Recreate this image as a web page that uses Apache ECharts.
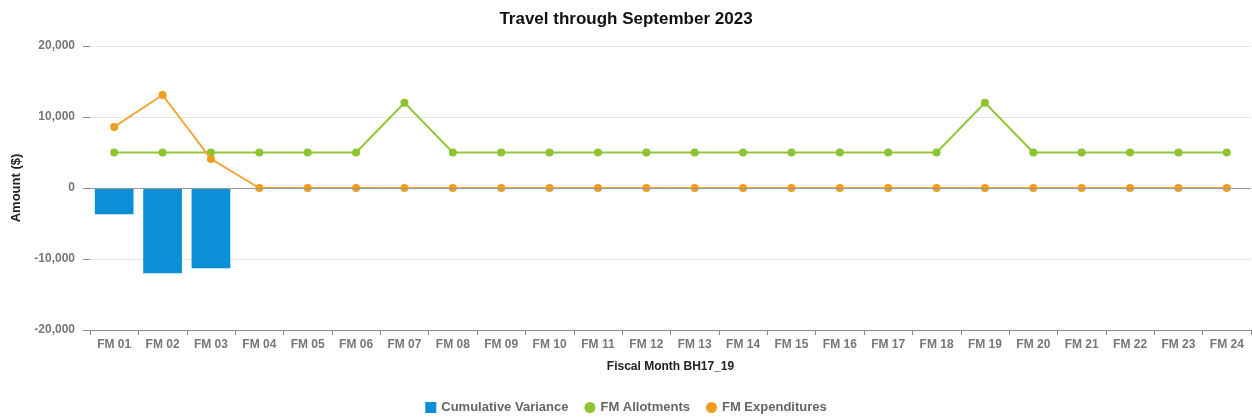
<!DOCTYPE html>
<html>
<head>
<meta charset="utf-8">
<script src="https://cdn.jsdelivr.net/npm/echarts@6/dist/echarts.min.js"></script>
<style>
  html, body { margin: 0; padding: 0; background: #fff; }
  #chart { width: 1252px; height: 419px; }
</style>
</head>
<body>
<div id="chart"></div>
<script>
// Fiscal months on the category axis
const months = ['FM 01','FM 02','FM 03','FM 04','FM 05','FM 06','FM 07','FM 08','FM 09','FM 10','FM 11','FM 12',
                'FM 13','FM 14','FM 15','FM 16','FM 17','FM 18','FM 19','FM 20','FM 21','FM 22','FM 23','FM 24'];

// Cumulative variance (bars); only the first three months carry a value
const cumulativeVariance = [-3700, -12000, -11300, null, null, null, null, null, null, null, null, null,
                            null, null, null, null, null, null, null, null, null, null, null, null];

// Monthly allotments
const allotments = [5000, 5000, 5000, 5000, 5000, 5000, 12000, 5000, 5000, 5000, 5000, 5000,
                    5000, 5000, 5000, 5000, 5000, 5000, 12000, 5000, 5000, 5000, 5000, 5000];

// Monthly expenditures
const expenditures = [8600, 13100, 4100, 0, 0, 0, 0, 0, 0, 0, 0, 0,
                      0, 0, 0, 0, 0, 0, 0, 0, 0, 0, 0, 0];

const FONT = '"Liberation Sans", Arial, sans-serif';
const chart = echarts.init(document.getElementById('chart'));

chart.setOption({
  animation: false,
  title: {
    text: 'Travel through September 2023',
    left: 'center',
    top: 6,
    textStyle: { fontFamily: FONT, fontSize: 17, fontWeight: 'bold', color: '#111' }
  },
  legend: {
    bottom: 0,
    left: 'center',
    itemWidth: 11,
    itemHeight: 11,
    itemGap: 16,
    textStyle: { fontFamily: FONT, fontSize: 13, fontWeight: 'bold', color: '#666' },
    data: [
      { name: 'Cumulative Variance', icon: 'rect' },
      { name: 'FM Allotments', icon: 'circle' },
      { name: 'FM Expenditures', icon: 'circle' }
    ]
  },
  grid: { left: 90, right: 1, top: 46, bottom: 89 },
  xAxis: {
    type: 'category',
    data: months,
    boundaryGap: true,
    name: 'Fiscal Month BH17_19',
    nameLocation: 'middle',
    nameGap: 31,
    nameTextStyle: { fontFamily: FONT, fontSize: 12, fontWeight: 'bold', color: '#222' },
    axisLine: { onZero: false, lineStyle: { color: '#8a8a8a', width: 1 } },
    axisTick: { show: true, alignWithLabel: false, length: 5, lineStyle: { color: '#8a8a8a' } },
    axisLabel: { fontFamily: FONT, fontSize: 12, fontWeight: 'bold', color: '#777', margin: 9, interval: 0 },
    splitLine: { show: false }
  },
  yAxis: {
    type: 'value',
    min: -20000,
    max: 20000,
    interval: 10000,
    name: 'Amount ($)',
    nameLocation: 'middle',
    nameGap: 67,
    nameRotate: 90,
    nameTextStyle: { fontFamily: FONT, fontSize: 13, fontWeight: 'bold', color: '#222' },
    axisLine: { show: false },
    axisTick: { show: true, length: 7, lineStyle: { color: '#8a8a8a' } },
    axisLabel: {
      fontFamily: FONT, fontSize: 12, fontWeight: 'bold', color: '#777', margin: 15,
      formatter: v => v.toLocaleString('en-US')
    },
    splitLine: { show: true, lineStyle: { color: '#e6e6e6', width: 1 } }
  },
  series: [
    {
      name: 'Cumulative Variance',
      type: 'bar',
      data: cumulativeVariance,
      barWidth: '80%',
      itemStyle: { color: '#0b8fd6' },
      markLine: {
        silent: true,
        symbol: ['none', 'none'],
        label: { show: false },
        lineStyle: { color: '#9a9a9a', type: 'solid', width: 1 },
        data: [{ yAxis: 0 }]
      },
      z: 1
    },
    {
      name: 'FM Allotments',
      type: 'line',
      data: allotments,
      symbol: 'circle',
      symbolSize: 8,
      lineStyle: { color: '#93c83a', width: 2 },
      itemStyle: { color: '#8fc431' },
      z: 3
    },
    {
      name: 'FM Expenditures',
      type: 'line',
      data: expenditures,
      symbol: 'circle',
      symbolSize: 8,
      lineStyle: { color: '#f2a63a', width: 2 },
      itemStyle: { color: '#ef9d1e' },
      z: 4
    }
  ]
});
</script>
</body>
</html>
